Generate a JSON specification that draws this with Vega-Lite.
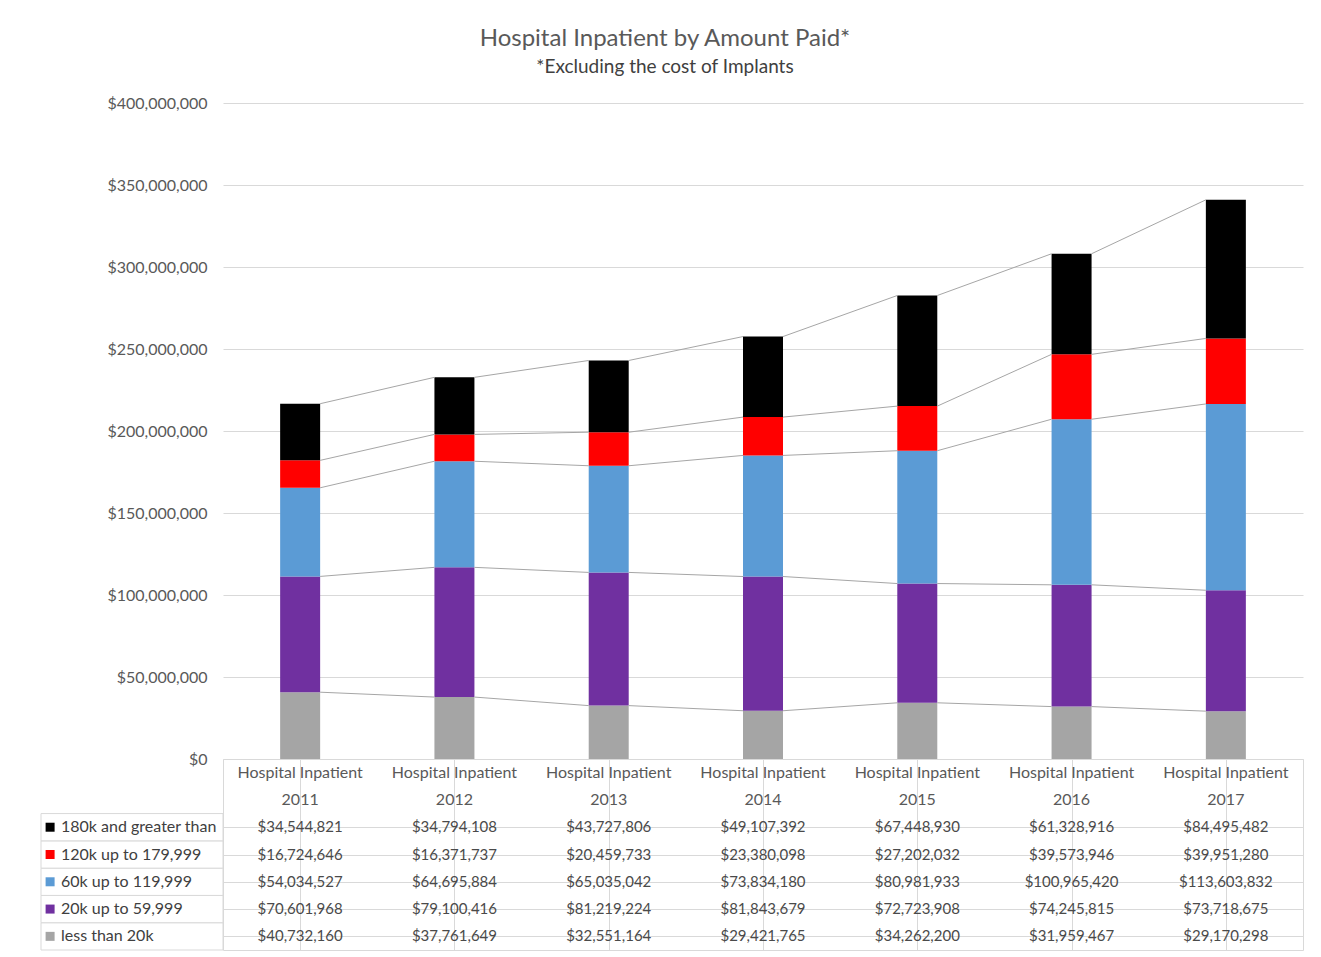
{
  "$schema": "https://vega.github.io/schema/vega-lite/v6.json",
  "padding": {"left": 40, "top": 27, "right": 10, "bottom": 5},
  "background": "white",
  "title": {
    "text": "Hospital Inpatient by Amount Paid*",
    "subtitle": "*Excluding the cost of Implants",
    "anchor": "middle",
    "font": "Lato",
    "fontSize": 24,
    "fontWeight": "normal",
    "color": "#595959",
    "subtitleFont": "Lato",
    "subtitleFontSize": 19,
    "subtitleColor": "#404040",
    "subtitlePadding": 7,
    "offset": 18,
    "dx": -7
  },
  "datasets": {
    "paid": [
      {"year": 2011, "series": "less than 20k", "value": 40732160},
      {"year": 2011, "series": "20k up to 59,999", "value": 70601968},
      {"year": 2011, "series": "60k up to 119,999", "value": 54034527},
      {"year": 2011, "series": "120k up to 179,999", "value": 16724646},
      {"year": 2011, "series": "180k and greater than", "value": 34544821},
      {"year": 2012, "series": "less than 20k", "value": 37761649},
      {"year": 2012, "series": "20k up to 59,999", "value": 79100416},
      {"year": 2012, "series": "60k up to 119,999", "value": 64695884},
      {"year": 2012, "series": "120k up to 179,999", "value": 16371737},
      {"year": 2012, "series": "180k and greater than", "value": 34794108},
      {"year": 2013, "series": "less than 20k", "value": 32551164},
      {"year": 2013, "series": "20k up to 59,999", "value": 81219224},
      {"year": 2013, "series": "60k up to 119,999", "value": 65035042},
      {"year": 2013, "series": "120k up to 179,999", "value": 20459733},
      {"year": 2013, "series": "180k and greater than", "value": 43727806},
      {"year": 2014, "series": "less than 20k", "value": 29421765},
      {"year": 2014, "series": "20k up to 59,999", "value": 81843679},
      {"year": 2014, "series": "60k up to 119,999", "value": 73834180},
      {"year": 2014, "series": "120k up to 179,999", "value": 23380098},
      {"year": 2014, "series": "180k and greater than", "value": 49107392},
      {"year": 2015, "series": "less than 20k", "value": 34262200},
      {"year": 2015, "series": "20k up to 59,999", "value": 72723908},
      {"year": 2015, "series": "60k up to 119,999", "value": 80981933},
      {"year": 2015, "series": "120k up to 179,999", "value": 27202032},
      {"year": 2015, "series": "180k and greater than", "value": 67448930},
      {"year": 2016, "series": "less than 20k", "value": 31959467},
      {"year": 2016, "series": "20k up to 59,999", "value": 74245815},
      {"year": 2016, "series": "60k up to 119,999", "value": 100965420},
      {"year": 2016, "series": "120k up to 179,999", "value": 39573946},
      {"year": 2016, "series": "180k and greater than", "value": 61328916},
      {"year": 2017, "series": "less than 20k", "value": 29170298},
      {"year": 2017, "series": "20k up to 59,999", "value": 73718675},
      {"year": 2017, "series": "60k up to 119,999", "value": 113603832},
      {"year": 2017, "series": "120k up to 179,999", "value": 39951280},
      {"year": 2017, "series": "180k and greater than", "value": 84495482}
    ]
  },
  "columns": 2,
  "spacing": 0,
  "bounds": "flush",
  "concat": [
    {
      "width": 182,
      "height": 656,
      "data": {"values": []},
      "mark": "point"
    },
    {
      "width": 1080,
      "height": 656,
      "data": {"name": "paid"},
      "transform": [
        {"window": [{"op": "row_number", "as": "k"}], "groupby": ["year"]},
        {"stack": "value", "groupby": ["year"], "sort": [{"field": "k", "order": "ascending"}], "as": ["v0", "v1"]}
      ],
      "layer": [
        {
          "mark": {"type": "bar", "width": 40},
          "encoding": {
            "x": {"field": "year", "type": "ordinal", "scale": {"paddingInner": 0, "paddingOuter": 0}, "axis": null},
            "y": {
              "field": "v1",
              "type": "quantitative",
              "scale": {"domain": [0, 400000000], "nice": false},
              "axis": {
                "values": [0, 50000000, 100000000, 150000000, 200000000, 250000000, 300000000, 350000000, 400000000],
                "format": "$,.0f",
                "grid": true,
                "gridColor": "#d9d9d9",
                "domain": false,
                "ticks": false,
                "tickSize": 0,
                "labelPadding": 16,
                "labelFontSize": 16,
                "labelColor": "#595959",
                "title": null
              }
            },
            "y2": {"field": "v0"},
            "color": {
              "field": "series",
              "type": "nominal",
              "scale": {
                "domain": ["180k and greater than", "120k up to 179,999", "60k up to 119,999", "20k up to 59,999", "less than 20k"],
                "range": ["#000000", "#ff0000", "#5b9bd5", "#7030a0", "#a5a5a5"]
              },
              "legend": null
            }
          }
        },
        {
          "transform": [
            {"window": [{"op": "lead", "field": "v1", "as": "nv1"}, {"op": "lead", "field": "year", "as": "nyear"}], "groupby": ["series"], "sort": [{"field": "year", "order": "ascending"}]},
            {"filter": "datum.nyear != null"}
          ],
          "mark": {"type": "rule", "color": "#a6a6a6", "strokeWidth": 1, "xOffset": 20, "x2Offset": -20},
          "encoding": {
            "x": {"field": "year", "type": "ordinal"},
            "x2": {"field": "nyear"},
            "y": {"field": "v1", "type": "quantitative"},
            "y2": {"field": "nv1"}
          }
        }
      ]
    },
    {
      "width": 182,
      "height": 191,
      "data": {"name": "paid"},
      "transform": [{"aggregate": [{"op": "sum", "field": "value", "as": "total"}], "groupby": ["series"]}],
      "encoding": {
        "y": {
          "field": "series",
          "type": "nominal",
          "scale": {
            "domain": ["H1", "H2", "180k and greater than", "120k up to 179,999", "60k up to 119,999", "20k up to 59,999", "less than 20k"],
            "paddingInner": 0,
            "paddingOuter": 0
          },
          "axis": null
        }
      },
      "layer": [
        {
          "mark": {"type": "rect", "fill": "white", "stroke": "#d9d9d9", "strokeWidth": 1},
          "encoding": {
            "x": {"datum": 0, "type": "quantitative", "scale": {"domain": [0, 1], "nice": false}, "axis": null},
            "x2": {"datum": 1}
          }
        },
        {
          "mark": {"type": "point", "shape": "square", "filled": true, "size": 81, "opacity": 1},
          "encoding": {
            "x": {"datum": 0.05, "type": "quantitative"},
            "color": {
              "field": "series",
              "type": "nominal",
              "scale": {
                "domain": ["180k and greater than", "120k up to 179,999", "60k up to 119,999", "20k up to 59,999", "less than 20k"],
                "range": ["#000000", "#ff0000", "#5b9bd5", "#7030a0", "#a5a5a5"]
              },
              "legend": null
            }
          }
        },
        {
          "mark": {"type": "text", "align": "left", "fontSize": 16, "font": "Lato", "color": "#404040"},
          "encoding": {
            "x": {"datum": 0.11, "type": "quantitative"},
            "text": {"field": "series"}
          }
        }
      ]
    },
    {
      "width": 1080,
      "height": 191,
      "view": {"stroke": "#d9d9d9", "strokeWidth": 1},
      "data": {"name": "paid"},
      "encoding": {
        "x": {
          "field": "year",
          "type": "ordinal",
          "scale": {"paddingInner": 0, "paddingOuter": 0},
          "axis": {"grid": true, "gridColor": "#d9d9d9", "bandPosition": 0, "labels": false, "ticks": false, "domain": false, "title": null}
        }
      },
      "layer": [
        {
          "mark": {"type": "text", "fontSize": 15, "font": "Lato", "color": "#4a4a4a"},
          "encoding": {
            "y": {
              "field": "series",
              "type": "nominal",
              "scale": {
                "domain": ["H1", "H2", "180k and greater than", "120k up to 179,999", "60k up to 119,999", "20k up to 59,999", "less than 20k"],
                "paddingInner": 0,
                "paddingOuter": 0
              },
              "axis": {
                "grid": true,
                "gridColor": "#d9d9d9",
                "values": ["180k and greater than", "120k up to 179,999", "60k up to 119,999", "20k up to 59,999", "less than 20k"],
                "bandPosition": 0,
                "labels": false,
                "ticks": false,
                "domain": false,
                "title": null
              }
            },
            "text": {"field": "value", "type": "quantitative", "format": "$,.0f"}
          }
        },
        {
          "transform": [{"aggregate": [{"op": "count", "as": "n"}], "groupby": ["year"]}],
          "mark": {"type": "text", "text": "Hospital Inpatient", "fontSize": 16, "font": "Lato", "color": "#595959"},
          "encoding": {"y": {"datum": "H1", "type": "nominal"}}
        },
        {
          "transform": [{"aggregate": [{"op": "count", "as": "n"}], "groupby": ["year"]}],
          "mark": {"type": "text", "fontSize": 16, "font": "Lato", "color": "#595959"},
          "encoding": {
            "y": {"datum": "H2", "type": "nominal"},
            "text": {"field": "year", "type": "ordinal"}
          }
        }
      ]
    }
  ],
  "config": {
    "font": "Lato",
    "view": {"stroke": null},
    "axis": {"labelFont": "Lato"}
  }
}
